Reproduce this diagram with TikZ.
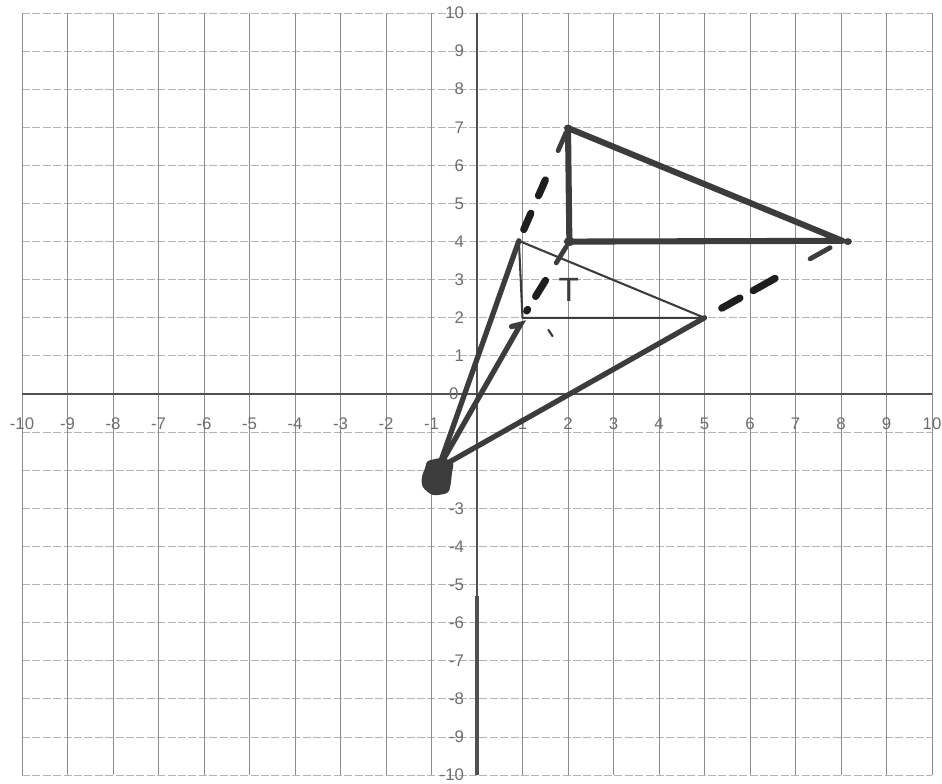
\documentclass[tikz,border=0pt]{standalone}
\usepackage{fontspec}
\setmainfont{Liberation Sans}
\usetikzlibrary{calc}
\definecolor{gridv}{HTML}{8C8C8C}
\definecolor{gridh}{HTML}{B4B4B4}
\definecolor{axisc}{HTML}{505050}
\definecolor{inkc}{HTML}{3C3C3C}
\definecolor{dashc}{HTML}{1E1E1E}
\definecolor{labc}{HTML}{6E6E6E}
\begin{document}
\begin{tikzpicture}[x=1cm,y=0.8374cm,
  gridvline/.style={draw=gridv,line width=0.5pt},
  gridhline/.style={draw=gridh,line width=0.5pt,dash pattern=on 5pt off 1.5pt},
  axisline/.style={draw=axisc,line width=1.2pt},
  ticklab/.style={font=\fontsize{10.5}{12}\selectfont,text=labc,inner sep=0pt},
  thinedge/.style={draw=inkc,line width=1.3pt,line join=round},
  rayline/.style={draw=inkc,line width=3.3pt,line cap=round},
  bigedge/.style={draw=inkc,line width=3.8pt,line join=round,line cap=round},
  dashseg/.style={draw=dashc,line width=4.5pt,line cap=round},
  tipseg/.style={draw=inkc,line width=3pt,line cap=round}]
\fill[white] (-10.484,-10.236) rectangle (10.22,10.341);
\useasboundingbox (-10.484,-10.236) rectangle (10.22,10.341);
% grid
\foreach \i in {-10,...,10} {
  \draw[gridhline] (-10,\i) -- (10,\i);
}
\foreach \i in {-10,...,10} {
  \draw[gridvline] (\i,-10) -- (\i,10);
}
% axes
\coordinate (xa) at (-10,0); \coordinate (xb) at (10,0);
\coordinate (ya) at (0,10); \coordinate (yb) at (0,-10); \coordinate (ym) at (0,-5.3);
\draw[axisline] (xa) -- (xb);
\draw[axisline,line width=1.6pt] (ya) -- (yb);
\draw[axisline,line width=2.8pt] (ym) -- (yb);
% tick labels
\foreach \i in {-10,...,-1,1,2,...,10}
  \node[ticklab,anchor=north] (xl\i) at (\i,-0.62) {\i};
\foreach \j in {1,...,10,-3,-4,...,-10}
  \node[ticklab,anchor=east] (yl\j) at (-0.28,\j) {\j};
\node[ticklab,anchor=east] (yl0) at (-0.4,0.02) {0};
% points
\coordinate (O) at (-0.85,-1.95);
\coordinate (A) at (0.92,4.02);
\coordinate (B) at (1,2);
\coordinate (C) at (5,2);
\coordinate (A2) at (2,6.98);
\coordinate (B2) at (2.03,4);
\coordinate (C2) at (8.03,4.02);
\coordinate (Bt) at (0.96,1.83);
\coordinate (Bb) at (0.76,1.77);
% pre-image triangle
\draw[thinedge] (A) -- (B) -- (C) -- cycle;
% rays from centre
\draw[rayline] (O) -- (A);
\draw[rayline] (O) -- (C);
\draw[rayline] (O) -- (Bt) -- (Bb);
% dashed continuations
\draw[dashseg] ($(A)!0.10!(A2)$) -- ($(A)!0.245!(A2)$);
\draw[dashseg] ($(A)!0.40!(A2)$) -- ($(A)!0.54!(A2)$);
\draw[tipseg]  ($(A)!0.80!(A2)$) -- ($(A)!0.96!(A2)$);
\draw[dashseg] ($(B)!0.09!(B2)$) -- ($(B)!0.11!(B2)$);
\draw[dashseg] ($(B)!0.28!(B2)$) -- ($(B)!0.49!(B2)$);
\draw[tipseg]  ($(B)!0.72!(B2)$) -- ($(B)!0.93!(B2)$);
\draw[dashseg] ($(C)!0.125!(C2)$) -- ($(C)!0.257!(C2)$);
\draw[dashseg] ($(C)!0.353!(C2)$) -- ($(C)!0.512!(C2)$);
\draw[tipseg]  ($(C)!0.766!(C2)$) -- ($(C)!0.911!(C2)$);
% image triangle
\draw[bigedge] (A2) -- (B2) -- (C2) -- cycle;
\fill[inkc] (B2) circle (0.12);
\fill[inkc] (A2) circle (0.09);
\fill[inkc] ($(C2)+(0.12,-0.02)$) circle (0.09);
% centre blob
\fill[inkc] plot[smooth cycle] coordinates {(-1.0,-1.73) (-0.75,-1.68) (-0.53,-1.81) (-0.55,-2.07) (-0.59,-2.44) (-0.66,-2.6) (-0.97,-2.65) (-1.19,-2.44) (-1.21,-2.18) (-1.14,-1.94) (-1.1,-1.78)};
% stray mark
\coordinate (s1) at (1.57,1.68); \coordinate (s2) at (1.66,1.52);
\draw[inkc,line width=1.4pt,line cap=round] (s1) -- (s2);
% label
\node[font=\fontsize{21}{24}\selectfont,text=inkc,inner sep=0pt] (tlab) at (2.02,2.72) {T};
\end{tikzpicture}
\end{document}
